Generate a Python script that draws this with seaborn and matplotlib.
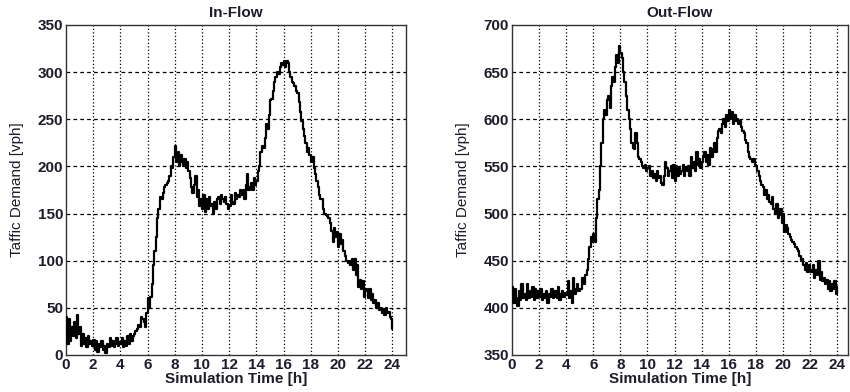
import numpy as np
import pandas as pd
import seaborn as sns
import matplotlib
matplotlib.use("Agg")
import matplotlib.pyplot as plt

# time axis (hours), 0.1 h resolution
time_h = [round(i * 0.1, 1) for i in range(241)]

in_flow = [
    40,
    12, 38, 15, 30, 20, 35, 18, 42, 22, 30,
    10, 22, 12, 18, 8, 20, 12, 15, 10, 16,
    5, 15, 3, 12, 8, 15, 5, 10, 2, 12,
    8, 18, 10, 15, 8, 12, 18, 10, 14, 12,
    18, 8, 15, 10, 20, 12, 22, 15, 20, 22,
    25, 28, 32, 30, 40, 38, 35, 30, 45, 60,
    50, 62, 75, 95, 110, 125, 145, 155, 168, 165,
    172, 178, 180, 182, 185, 190, 200, 198, 210, 222,
    205, 215, 200, 212, 205, 200, 208, 198, 205, 195,
    188, 178, 172, 180, 190, 168, 175, 158, 165, 155,
    170, 152, 165, 155, 168, 158, 160, 150, 162, 155,
    165, 168, 160, 170, 165, 162, 168, 160, 155, 158,
    170, 162, 160, 172, 165, 170, 168, 175, 170, 175,
    165, 180, 192, 175, 178, 182, 175, 188, 180, 185,
    195, 200, 215, 222, 220, 230, 245, 240, 255, 270,
    272, 280, 290, 295, 300, 298, 305, 310, 308, 312,
    305, 312, 310, 300, 295, 290, 288, 285, 280, 278,
    268, 258, 248, 240, 232, 225, 215, 220, 212, 205,
    210, 198, 192, 185, 178, 170, 165, 165, 155, 150,
    148, 147, 145, 140, 132, 120, 135, 125, 130, 115,
    128, 118, 122, 110, 105, 100, 98, 100, 95, 102,
    90, 102, 85, 95, 72, 80, 70, 78, 62, 70,
    68, 60, 70, 58, 65, 55, 58, 50, 55, 48,
    50, 45, 48, 42, 50, 45, 46, 40, 38, 28,
]

out_flow = [
    422,
    405, 420, 410, 402, 418, 408, 425, 410, 415, 408,
    425, 410, 418, 412, 422, 408, 420, 410, 418, 412,
    420, 408, 415, 410, 418, 405, 415, 412, 420, 410,
    412, 418, 410, 422, 408, 415, 418, 412, 416, 414,
    428, 410, 418, 405, 432, 415, 420, 425, 418, 420,
    420, 432, 425, 435, 440, 452, 465, 475, 470, 478,
    470, 495, 515, 525, 550, 575, 600, 610, 605, 620,
    625, 612, 635, 645, 640, 655, 668, 660, 678, 670,
    665, 650, 640, 625, 610, 600, 590, 575, 570, 568,
    585, 575, 560, 558, 555, 550, 548, 552, 545, 548,
    550, 540, 545, 538, 542, 535, 545, 538, 540, 532,
    530, 540, 555, 548, 540, 545, 550, 538, 552, 535,
    550, 540, 548, 542, 545, 552, 540, 548, 545, 550,
    540, 560, 548, 555, 545, 565, 552, 558, 548, 555,
    560, 565, 555, 562, 552, 570, 560, 568, 575, 565,
    580, 588, 590, 585, 595, 600, 592, 605, 598, 610,
    600, 608, 595, 605, 598, 600, 595, 598, 592, 588,
    585, 578, 575, 565, 560, 558, 555, 558, 552, 550,
    545, 540, 535, 530, 528, 520, 525, 515, 520, 512,
    510, 518, 505, 500, 510, 495, 498, 505, 490, 500,
    480, 488, 485, 478, 475, 472, 470, 468, 465, 462,
    460, 455, 450, 452, 445, 440, 448, 438, 445, 440,
    438, 445, 432, 440, 435, 450, 430, 438, 428, 432,
    425, 430, 420, 428, 418, 425, 420, 428, 415, 422,
]

titles = ["In-Flow", "Out-Flow"]
y_limits = [(0, 350), (350, 700)]
x_ticks = list(range(0, 25, 2))
x_label = "Simulation Time [h]"
y_label = "Taffic Demand [vph]"

sns.set_style("white")
plt.rcParams["font.family"] = ["Liberation Sans", "DejaVu Sans"]

fig = plt.figure(figsize=(8.5, 3.92), dpi=100)
ax1 = fig.add_axes([66 / 850, 37 / 392, 340 / 850, 330 / 392])
ax2 = fig.add_axes([512 / 850, 37 / 392, 336 / 850, 330 / 392])
axes = [ax1, ax2]
xmaxes = [25, 24.8]

text_color = "#1c1c2a"
for ax, vals, title, ylim, xmax in zip(axes, [in_flow, out_flow], titles, y_limits, xmaxes):
    df = pd.DataFrame({"t": time_h, "v": vals})
    sns.lineplot(data=df, x="t", y="v", ax=ax, color="black", linewidth=1.6,
                 drawstyle="steps-post", zorder=3)
    ax.set_xlim(0, xmax)
    ax.set_ylim(*ylim)
    ax.set_xticks(x_ticks)
    ax.set_yticks(np.arange(ylim[0], ylim[1] + 1, 50))
    # grid lines, MATLAB style
    for yv in np.arange(ylim[0] + 50, ylim[1], 50):
        ax.axhline(yv, color="black", linewidth=0.9, linestyle=(0, (3, 2.5)), zorder=1)
    for xv in x_ticks[1:]:
        ax.axvline(xv, color="black", linewidth=0.9, linestyle=(0, (1, 1.8)), zorder=1)
    for s in ax.spines.values():
        s.set_color("#333333")
        s.set_linewidth(1.0)
        s.set_visible(True)
    ax.tick_params(axis="both", labelsize=11, colors=text_color, length=0, pad=2)
    for lbl in ax.get_xticklabels() + ax.get_yticklabels():
        lbl.set_fontweight("bold")
        lbl.set_color(text_color)
    ax.set_title(title, fontsize=11, fontweight="bold", color=text_color, pad=6)
    ax.set_xlabel(x_label, fontsize=11, fontweight="bold", color=text_color, labelpad=0)
    ax.set_ylabel(y_label, fontsize=11, color=text_color, labelpad=10)

fig.savefig("out.png", dpi=100)
